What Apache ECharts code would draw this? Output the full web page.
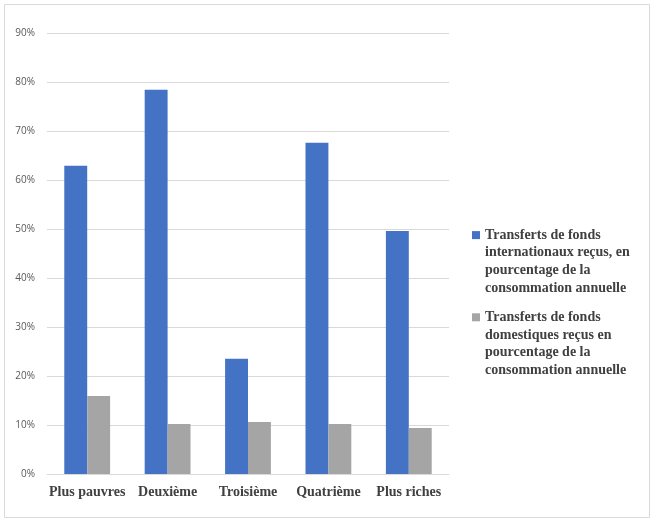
<!DOCTYPE html>
<html lang="fr">
  <head>
    <meta charset="UTF-8" />
    <title>Transferts de fonds</title>
    <script src="https://cdn.jsdelivr.net/npm/echarts@6.0.0/dist/echarts.min.js"></script>
    <style>
      html, body { margin: 0; padding: 0; background: #fff; }
    </style>
  </head>
  <body>
    <div id="main" style="width: 654px; height: 522px"></div>
    <script type="text/javascript">
      // Quintiles de consommation
      const categories = ["Plus pauvres", "Deuxième", "Troisième", "Quatrième", "Plus riches"];
      // valeurs en %
      const internationaux = [62.9, 78.4, 23.5, 67.6, 49.6];
      const domestiques = [15.9, 10.2, 10.6, 10.2, 9.4];
      const seriesNames = [
        "Transferts de fonds\ninternationaux reçus, en\npourcentage de la\nconsommation annuelle",
        "Transferts de fonds\ndomestiques reçus en\npourcentage de la\nconsommation annuelle",
      ];

      const lineH = 17.6;
      const serif = "'Liberation Serif', 'DejaVu Serif', serif";

      let myChart = echarts.init(document.getElementById("main"));

      let options = {
        animation: false,
        backgroundColor: "#fff",
        graphic: [
          {
            type: "rect",
            shape: { x: 4.5, y: 4.5, width: 645, height: 513 },
            style: { fill: "none", stroke: "#d9d9d9", lineWidth: 1 },
          },
        ],
        grid: { left: 47, right: 205, top: 33, bottom: 48 },
        legend: {
          orient: "vertical",
          left: 472,
          top: 173.5,
          padding: 0,
          itemWidth: 8,
          itemHeight: 8,
          itemGap: -41,
          icon: "rect",
          // empty lines on top so the marker sits next to the first line
          formatter: (name) => "\n\n\n" + name,
          textStyle: {
            fontFamily: serif,
            fontWeight: "bold",
            fontSize: 14,
            color: "#404040",
            lineHeight: lineH,
          },
          data: seriesNames,
        },
        xAxis: {
          type: "category",
          data: categories,
          axisLine: { lineStyle: { color: "#d9d9d9" } },
          axisTick: { show: false },
          axisLabel: {
            interval: 0,
            margin: 11,
            fontFamily: serif,
            fontWeight: "bold",
            fontSize: 14,
            color: "#404040",
          },
        },
        yAxis: {
          type: "value",
          min: 0,
          max: 90,
          interval: 10,
          axisLine: { show: false },
          axisTick: { show: false },
          splitLine: { lineStyle: { color: "#d9d9d9" } },
          axisLabel: {
            margin: 12,
            formatter: "{value}%",
            fontFamily: "'Open Sans', 'Liberation Sans', sans-serif",
            fontSize: 10,
            color: "#595959",
          },
        },
        series: [
          {
            name: seriesNames[0],
            type: "bar",
            data: internationaux,
            itemStyle: { color: "#4472C4" },
            barGap: "0%",
            barCategoryGap: "43%",
          },
          {
            name: seriesNames[1],
            type: "bar",
            data: domestiques,
            itemStyle: { color: "#A5A5A5" },
          },
        ],
      };

      myChart.setOption(options);
    </script>
  </body>
</html>
